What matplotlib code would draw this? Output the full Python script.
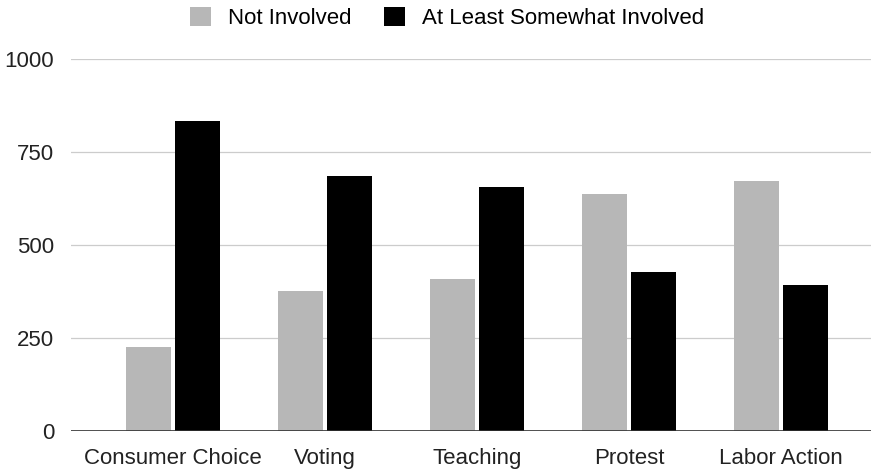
import matplotlib.pyplot as plt
import numpy as np

plt.rcParams['font.family'] = ['Liberation Sans', 'DejaVu Sans']

categories = ['Consumer Choice', 'Voting', 'Teaching', 'Protest', 'Labor Action']
not_involved = [226, 377, 408, 636, 671]
somewhat_involved = [834, 685, 657, 428, 392]
series_names = ['Not Involved', 'At Least Somewhat Involved']
y_ticks = [0, 250, 500, 750, 1000]

fig = plt.figure(figsize=(8.71, 4.72), dpi=100)
ax = fig.add_axes([71/871, 1 - 431/472, 800/871, (431 - 59)/472])

x = np.arange(len(categories))
w = 0.296
off = 0.163
b1 = ax.bar(x - off, not_involved, w, color='#b7b7b7', label=series_names[0], zorder=3)
b2 = ax.bar(x + off, somewhat_involved, w, color='#000000', label=series_names[1], zorder=3)

ax.set_xlim(-0.671, 4.592)
ax.set_ylim(0, 1000)
ax.set_yticks(y_ticks)
ax.set_yticklabels([str(t) for t in y_ticks])
ax.set_xticks(x)
ax.set_xticklabels(categories)
ax.tick_params(axis='both', length=0, labelsize=16, colors='#222222')
ax.tick_params(axis='y', pad=12)
ax.tick_params(axis='x', pad=12)

# gridlines, with a darker baseline at zero
ax.grid(axis='y', color='#cccccc', linewidth=0.9, zorder=0)
ax.axhline(0, color='#333333', linewidth=1.2, zorder=4)
for s in ax.spines.values():
    s.set_visible(False)
ax.set_clip_on(False)

fig.legend(handles=[b1, b2], loc='center', bbox_to_anchor=(447/871, 1 - 18/472),
           ncol=2, frameon=False, fontsize=16, handlelength=0.95, handleheight=0.95,
           handletextpad=0.75, columnspacing=1.45, borderpad=0)

fig.savefig('out.png', dpi=100, facecolor='white')
